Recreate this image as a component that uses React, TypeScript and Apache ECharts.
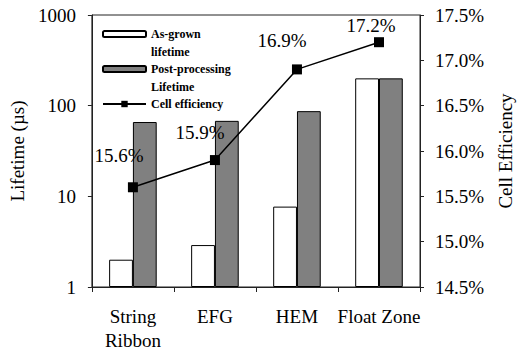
import React, { useEffect, useRef } from "react";
import * as echarts from "echarts";

const categories = ["String\nRibbon", "EFG", "HEM", "Float Zone"];
const asGrownLifetime = [2.0, 2.9, 7.7, 200];
const postProcessingLifetime = [66, 68, 87, 200];
const cellEfficiency = [15.6, 15.9, 16.9, 17.2];
const effLabelOffsets = [[-14, -12], [-15, -8], [-15, -9], [-8, 3]];

const FONT = "Times New Roman, Liberation Serif, serif";
const AXIS_COLOR = "#222";
const FS = 19;

export default function App() {
  const ref = useRef<HTMLDivElement>(null);
  useEffect(() => {
    if (!ref.current) return;
    const chart = echarts.init(ref.current, undefined, { renderer: "svg" });
    const legendText = {
      fontFamily: FONT,
      fontWeight: "bold" as const,
      fontSize: 12,
      color: "#000",
      lineHeight: 18,
    };
    chart.setOption({
      animation: false,
      textStyle: { fontFamily: FONT },
      grid: {
        left: 84,
        right: 88,
        top: 15,
        bottom: 63,
        show: true,
        borderColor: AXIS_COLOR,
        borderWidth: 1,
        backgroundColor: "transparent",
      },
      legend: [
        {
          orient: "vertical",
          left: 102,
          top: 7,
          padding: 0,
          itemWidth: 43,
          itemHeight: 6,
          selectedMode: false,
          textStyle: legendText,
          data: ["As-grown lifetime"],
          formatter: (n: string) => "\n" + n.replace(" ", "\n"),
        },
        {
          orient: "vertical",
          left: 102,
          top: 42,
          padding: 0,
          itemWidth: 43,
          itemHeight: 6,
          selectedMode: false,
          textStyle: legendText,
          data: ["Post-processing Lifetime"],
          formatter: (n: string) => "\n" + n.replace(" ", "\n"),
        },
        {
          orient: "vertical",
          left: 102,
          top: 95,
          padding: 0,
          itemWidth: 43,
          itemHeight: 8,
          selectedMode: false,
          textStyle: legendText,
          data: ["Cell efficiency"],
        },
      ],
      xAxis: {
        type: "category",
        data: categories,
        axisLine: { lineStyle: { color: AXIS_COLOR, width: 1 } },
        axisTick: { show: true, length: 5, lineStyle: { color: AXIS_COLOR } },
        axisLabel: {
          fontFamily: FONT,
          fontSize: FS,
          color: "#000",
          lineHeight: 24,
          margin: 17,
          interval: 0,
        },
      },
      yAxis: [
        {
          type: "log",
          logBase: 10,
          min: 1,
          max: 1000,
          name: "Lifetime (µs)",
          nameLocation: "middle",
          nameRotate: 90,
          nameGap: 56,
          nameTextStyle: { fontFamily: FONT, fontSize: FS, color: "#000" },
          axisLine: { show: true, lineStyle: { color: AXIS_COLOR, width: 1 } },
          axisTick: { show: true, length: 4, lineStyle: { color: AXIS_COLOR } },
          minorTick: { show: false },
          splitLine: { show: false },
          axisLabel: {
            fontFamily: FONT,
            fontSize: FS,
            color: "#000",
            margin: 16,
            formatter: (v: number) => String(Math.round(v)),
          },
        },
        {
          type: "value",
          min: 14.5,
          max: 17.5,
          interval: 0.5,
          position: "right",
          name: "Cell Efficiency",
          nameLocation: "middle",
          nameRotate: 90,
          nameGap: 76,
          nameTextStyle: { fontFamily: FONT, fontSize: FS, color: "#000" },
          axisLine: { show: true, lineStyle: { color: AXIS_COLOR, width: 1 } },
          axisTick: { show: true, length: 4, lineStyle: { color: AXIS_COLOR } },
          splitLine: { show: false },
          axisLabel: {
            fontFamily: FONT,
            fontSize: FS,
            color: "#000",
            margin: 15,
            formatter: (v: number) => v.toFixed(1) + "%",
          },
        },
      ],
      series: [
        {
          name: "As-grown lifetime",
          type: "bar",
          yAxisIndex: 0,
          data: asGrownLifetime,
          barGap: "0%",
          barCategoryGap: "42%",
          itemStyle: { color: "#ffffff", borderColor: "#000", borderWidth: 1 },
        },
        {
          name: "Post-processing Lifetime",
          type: "bar",
          yAxisIndex: 0,
          data: postProcessingLifetime,
          barGap: "0%",
          barCategoryGap: "42%",
          itemStyle: { color: "#808080", borderColor: "#000", borderWidth: 1 },
        },
        {
          name: "Cell efficiency",
          type: "line",
          yAxisIndex: 1,
          data: cellEfficiency.map((v, i) => ({
            value: v,
            label: { offset: effLabelOffsets[i] },
          })),
          symbol: "rect",
          symbolSize: 10,
          lineStyle: { color: "#000", width: 1.5 },
          itemStyle: { color: "#000" },
          label: {
            show: true,
            position: "top",
            fontFamily: FONT,
            fontSize: FS,
            color: "#000",
            formatter: (p: any) => p.value.toFixed(1) + "%",
          },
          z: 5,
        },
      ],
    });
    return () => chart.dispose();
  }, []);
  return (
    <div
      ref={ref}
      style={{ width: 523, height: 352, position: "absolute", left: 0, top: 0 }}
    />
  );
}
